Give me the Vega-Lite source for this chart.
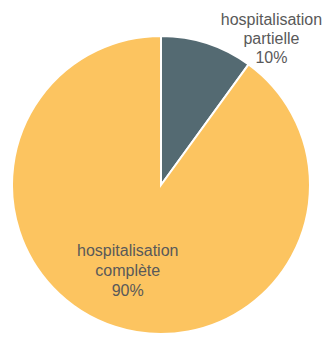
{
  "$schema": "https://vega.github.io/schema/vega-lite/v6.json",
  "width": 327,
  "height": 339,
  "autosize": {"type": "fit", "contains": "padding"},
  "padding": {"top": 30, "bottom": 3, "left": 10, "right": 15},
  "background": "white",
  "view": {"stroke": null},
  "data": {
    "values": [
      {"category": "hospitalisation partielle", "value": 10, "rank": 1, "label": "hospitalisation\npartielle\n10%"},
      {"category": "hospitalisation complète", "value": 90, "rank": 2, "label": "hospitalisation\ncomplète\n90%"}
    ]
  },
  "encoding": {
    "theta": {"field": "value", "type": "quantitative", "stack": true},
    "order": {"field": "rank", "type": "quantitative"}
  },
  "layer": [
    {
      "mark": {"type": "arc", "outerRadius": 149, "stroke": "white", "strokeWidth": 2},
      "encoding": {
        "color": {
          "field": "category",
          "type": "nominal",
          "scale": {"domain": ["hospitalisation partielle", "hospitalisation complète"], "range": ["#546A72", "#FCC460"]},
          "legend": null
        }
      }
    },
    {
      "transform": [{"filter": "datum.rank == 1"}],
      "mark": {"type": "text", "radius": 160, "dx": 61, "dy": -13, "lineBreak": "\n", "lineHeight": 19, "fontSize": 16, "font": "Liberation Sans", "fill": "#595959", "align": "center", "baseline": "middle"},
      "encoding": {"text": {"field": "label"}}
    },
    {
      "transform": [{"filter": "datum.rank == 2"}],
      "mark": {"type": "text", "radius": 93, "dx": -62, "dy": -22, "lineBreak": "\n", "lineHeight": 20, "fontSize": 16, "font": "Liberation Sans", "fill": "#595959", "align": "center", "baseline": "middle"},
      "encoding": {"text": {"field": "label"}}
    }
  ]
}
